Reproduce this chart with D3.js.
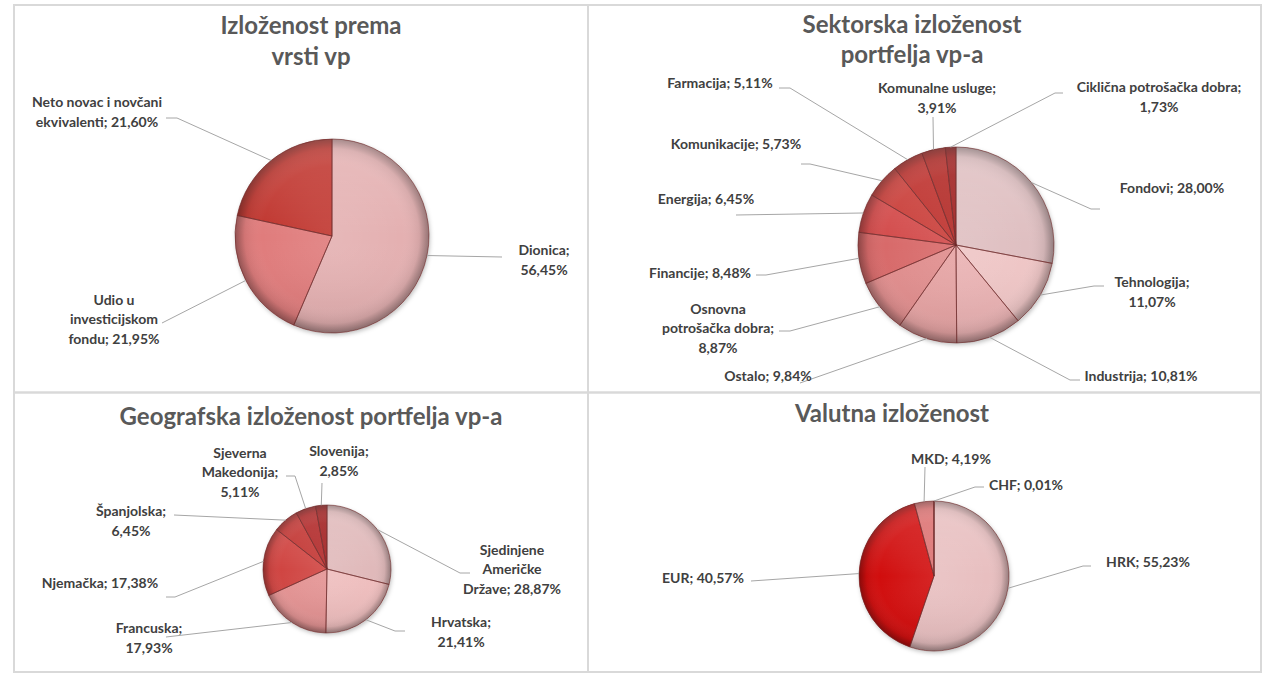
<!DOCTYPE html>
<html>
<head>
<meta charset="utf-8">
<script src="https://cdn.jsdelivr.net/npm/d3@7"></script>
<style>
  body { margin: 0; background: #fff; }
  text { font-family: Lato, "Open Sans", sans-serif; }
  .title { font-weight: 700; fill: #595959; font-size: 24px; }
  .lbl { font-weight: 700; fill: #404040; font-size: 14px; }
  .leader { fill: none; stroke: #a6a6a6; stroke-width: 1; }
  .panel { fill: none; stroke: #d9d9d9; stroke-width: 2; }
</style>
</head>
<body>
<svg id="chart"></svg>
<script>
// ---- data ----
const vrstaNames = ["Dionica", "Udio u investicijskom fondu", "Neto novac i novčani ekvivalenti"];
const vrstaValues = [56.45, 21.95, 21.60];

const sektorNames = ["Fondovi", "Tehnologija", "Industrija", "Ostalo", "Osnovna potrošačka dobra",
  "Financije", "Energija", "Komunikacije", "Farmacija", "Komunalne usluge", "Ciklična potrošačka dobra"];
const sektorValues = [28.00, 11.07, 10.81, 9.84, 8.87, 8.48, 6.45, 5.73, 5.11, 3.91, 1.73];

const geoNames = ["Sjedinjene Američke Države", "Hrvatska", "Francuska", "Njemačka",
  "Španjolska", "Sjeverna Makedonija", "Slovenija"];
const geoValues = [28.87, 21.41, 17.93, 17.38, 6.45, 5.11, 2.85];

const valutaNames = ["HRK", "EUR", "MKD", "CHF"];
const valutaValues = [55.23, 40.57, 4.19, 0.01];

// ---- styles / layout ----
const vrstaColors = ["#e4b0b1", "#e07c7c", "#c0362f"];
const sektorColors = ["#dfbfc1", "#efc6c6", "#eab2b3", "#e6a3a3", "#e08d8d", "#d86a6a",
  "#d34c4b", "#c93c39", "#bd2e2c", "#b12524", "#9e1c1c"];
const geoColors = ["#e0b9ba", "#efbebe", "#e49393", "#d04543", "#c23432", "#b02727", "#a01d1d"];
const valutaColors = ["#e8bfc0", "#d10a0a", "#dc6f6f", "#c23b3b"];

// label block centre (tx,ty), leader end (ex,ey), elbow length h, words per line
const vrstaLabelPos = [
  [212, 24, 170, 21, 0, [1, 1]],
  [-218, 83, -170, 87, 0, [2, 1, 2]],
  [-235, -124, -166, -118, 11, [4, 2]]
];
const sektorLabelPos = [
  [216, -57, 144, -36, -9, null],
  [196, 47, 148, 41, -10, [1, 1]],
  [185, 131, 124, 135, -10, null],
  [-188, 131, -156, 138, 0, null],
  [-238, 83, -177, 86, 11, [1, 2, 1]],
  [-256, 28, -200, 30, 10, null],
  [-250, -46, -220, -30, 0, null],
  [-220, -101, -155, -81, 9, null],
  [-236, -162, -177, -157, 11, null],
  [-19, -147, -23, -128, 0, [2, 1]],
  [203, -148, 107, -152, -8, [3, 1]]
];
const geoLabelPos = [
  [185, 0, 143, 4, -10, [1, 1, 2]],
  [134, 63, 78, 62, -10, [1, 1]],
  [-178, 69, -161, 68, 0, [1, 1]],
  [-227, 14, -161, 28, 9, null],
  [-196, -48, -153, -54, 0, [1, 1]],
  [-87, -97, -41, -93, 9, [1, 1, 1]],
  [12, -108, -5, -86, 0, [1, 1]]
];
const valutaLabelPos = [
  [214, -14, 157, -10, -8, null],
  [-231, 2, -183, 5, 0, null],
  [17, -117, -9, -109, 0, null],
  [92, -91, 50, -89, -9, null]
];

const width = 1265, height = 673;
const LH = 19.5;

const panels = [
  { x0: 14, y0: 5, x1: 588, y1: 392.5 },
  { x0: 588, y0: 5, x1: 1261, y1: 392.5 },
  { x0: 14, y0: 392.5, x1: 588, y1: 672 },
  { x0: 588, y0: 392.5, x1: 1261, y1: 672 }
];

const charts = [
  { names: vrstaNames, values: vrstaValues, colors: vrstaColors, labels: vrstaLabelPos,
    cx: 332, cy: 236, r: 97,
    title: [["Izloženost prema", 311, 34], ["vrsti vp", 311, 65]] },
  { names: sektorNames, values: sektorValues, colors: sektorColors, labels: sektorLabelPos,
    cx: 956, cy: 245, r: 98,
    title: [["Sektorska izloženost", 912, 33], ["portfelja vp-a", 912, 63]] },
  { names: geoNames, values: geoValues, colors: geoColors, labels: geoLabelPos,
    cx: 327, cy: 569, r: 64,
    title: [["Geografska izloženost portfelja vp-a", 311, 425]] },
  { names: valutaNames, values: valutaValues, colors: valutaColors, labels: valutaLabelPos,
    cx: 934, cy: 576, r: 75,
    title: [["Valutna izloženost", 892, 422]] }
];

const pct = v => d3.format(".2f")(v).replace(".", ",") + "%";

function splitLines(str, breaks) {
  if (!breaks) return [str];
  const words = str.split(" ");
  const out = [];
  let k = 0;
  breaks.forEach(n => { out.push(words.slice(k, k + n).join(" ")); k += n; });
  return out;
}

const svg = d3.select("#chart")
  .attr("width", width)
  .attr("height", height);

const defs = svg.append("defs");

const shadow = defs.append("filter").attr("id", "shadow")
  .attr("x", "-20%").attr("y", "-20%").attr("width", "140%").attr("height", "140%");
shadow.append("feDropShadow")
  .attr("dx", 1).attr("dy", 2).attr("stdDeviation", 2)
  .attr("flood-color", "#000").attr("flood-opacity", 0.25);

svg.selectAll("rect.panel")
  .data(panels)
  .join("rect")
  .attr("class", "panel")
  .attr("x", d => d.x0)
  .attr("y", d => d.y0)
  .attr("width", d => d.x1 - d.x0)
  .attr("height", d => d.y1 - d.y0);

charts.forEach((c, ci) => {
  // titles
  svg.append("g").selectAll("text")
    .data(c.title)
    .join("text")
    .attr("class", "title")
    .attr("text-anchor", "middle")
    .attr("x", d => d[1])
    .attr("y", d => d[2])
    .text(d => d[0]);

  const g = svg.append("g").attr("transform", `translate(${c.cx},${c.cy})`);

  const pie = d3.pie().sort(null).value(d => d.value);
  const arcs = pie(c.names.map((n, i) => ({ name: n, value: c.values[i] })));
  const arc = d3.arc().innerRadius(0).outerRadius(c.r);
  const color = d3.scaleOrdinal().domain(c.names).range(c.colors);

  // bevel-ish shading
  const rim = defs.append("radialGradient").attr("id", "rim" + ci)
    .attr("gradientUnits", "userSpaceOnUse")
    .attr("cx", 0).attr("cy", 0).attr("r", c.r);
  [[0, "#fff", 0.10], [0.72, "#fff", 0], [0.9, "#000", 0.07], [1, "#000", 0.35]].forEach(s => {
    rim.append("stop").attr("offset", s[0]).attr("stop-color", s[1]).attr("stop-opacity", s[2]);
  });
  const shine = defs.append("linearGradient").attr("id", "shine" + ci)
    .attr("gradientUnits", "userSpaceOnUse")
    .attr("x1", 0).attr("y1", -c.r).attr("x2", 0).attr("y2", c.r);
  [[0, "#fff", 0.18], [0.5, "#fff", 0], [1, "#000", 0.08]].forEach(s => {
    shine.append("stop").attr("offset", s[0]).attr("stop-color", s[1]).attr("stop-opacity", s[2]);
  });

  const pg = g.append("g").attr("filter", "url(#shadow)");
  pg.selectAll("path.slice")
    .data(arcs)
    .join("path")
    .attr("class", "slice")
    .attr("d", arc)
    .attr("fill", d => color(d.data.name));

  const ov = g.append("g");
  ov.selectAll("path.rim")
    .data(arcs)
    .join("path")
    .attr("class", "rim")
    .attr("d", arc)
    .attr("fill", `url(#rim${ci})`);
  ov.selectAll("path.shine")
    .data(arcs)
    .join("path")
    .attr("class", "shine")
    .attr("d", arc)
    .attr("fill", `url(#shine${ci})`)
    .attr("stroke", "#6e2a2a")
    .attr("stroke-opacity", 0.6)
    .attr("stroke-width", 1);

  // labels + leader lines
  c.labels.forEach((L, i) => {
    const a = arcs[i];
    const mid = (a.startAngle + a.endAngle) / 2;
    const pts = [[c.r * Math.sin(mid), -c.r * Math.cos(mid)]];
    if (L[4]) pts.push([L[2] + L[4], L[3]]);
    pts.push([L[2], L[3]]);
    g.append("path").attr("class", "leader").attr("d", d3.line()(pts));

    const lines = splitLines(c.names[i] + "; " + pct(c.values[i]), L[5]);
    const t = g.append("text").attr("class", "lbl").attr("text-anchor", "middle");
    lines.forEach((s, k) => {
      t.append("tspan")
        .attr("x", L[0])
        .attr("y", L[1] - (lines.length - 1) * LH / 2 + k * LH + 5)
        .text(s);
    });
  });
});
</script>
</body>
</html>
